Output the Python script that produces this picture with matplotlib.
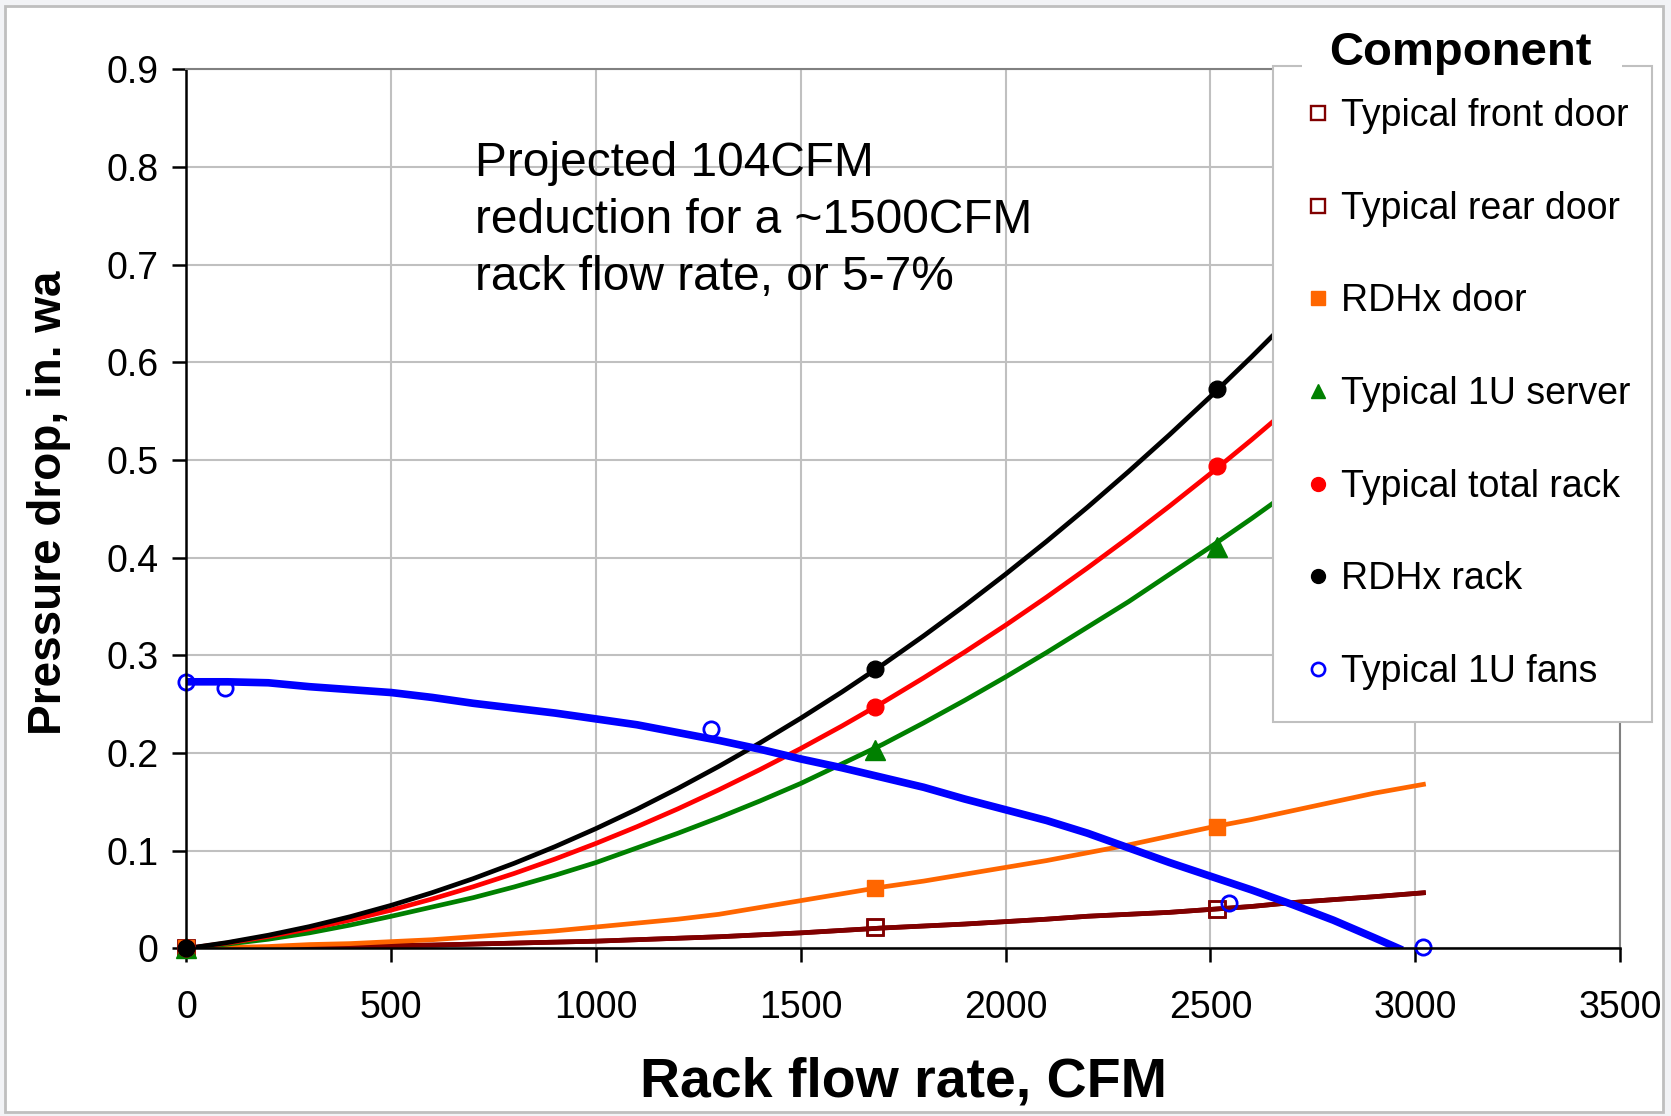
import matplotlib
matplotlib.use("Agg")
import matplotlib.pyplot as plt
from matplotlib.lines import Line2D
from matplotlib.patches import Rectangle

plt.rcParams['font.family'] = ['Liberation Sans', 'DejaVu Sans']

# curves, every 100 CFM
flow_cfm = [0, 100, 200, 300, 400, 500, 600, 700, 800, 900, 1000,
            1100, 1200, 1300, 1400, 1500, 1600, 1700, 1800, 1900, 2000,
            2100, 2200, 2300, 2400, 2500, 2600, 2700, 2800, 2900, 3020]
front_door = [0, 0, 0.0005, 0.0015, 0.0025, 0.003, 0.0035, 0.0045, 0.0055, 0.0065, 0.0075,
              0.009, 0.0105, 0.012, 0.014, 0.016, 0.0185, 0.021, 0.023, 0.025, 0.0275,
              0.030, 0.033, 0.035, 0.037, 0.040, 0.043, 0.047, 0.050, 0.053, 0.057]
rear_door = [0, 0, 0.0005, 0.0015, 0.0025, 0.003, 0.0035, 0.0045, 0.0055, 0.0065, 0.0075,
             0.009, 0.0105, 0.012, 0.014, 0.016, 0.0185, 0.021, 0.023, 0.025, 0.0275,
             0.030, 0.033, 0.035, 0.037, 0.040, 0.043, 0.047, 0.050, 0.053, 0.057]
rdhx_door = [0, 0.001, 0.002, 0.004, 0.005, 0.007, 0.009, 0.012, 0.015, 0.018, 0.022,
             0.026, 0.030, 0.035, 0.042, 0.049, 0.056, 0.063, 0.069, 0.076, 0.083,
             0.090, 0.098, 0.106, 0.115, 0.124, 0.132, 0.141, 0.150, 0.159, 0.168]
server_1u = [0, 0.0045, 0.0095, 0.016, 0.024, 0.033, 0.0425, 0.052, 0.063, 0.075, 0.088,
             0.103, 0.118, 0.134, 0.151, 0.169, 0.189, 0.209, 0.231, 0.254, 0.278,
             0.303, 0.329, 0.355, 0.383, 0.411, 0.440, 0.470, 0.502, 0.534, 0.575]
total_rack = [0, 0.0056, 0.0123, 0.0201, 0.0291, 0.0393, 0.0507, 0.0632, 0.0768, 0.0916, 0.1076,
              0.1247, 0.143, 0.1625, 0.1831, 0.2048, 0.2277, 0.2518, 0.2771, 0.3035, 0.331,
              0.3597, 0.3896, 0.4206, 0.4528, 0.4861, 0.5206, 0.5563, 0.5931, 0.6311, 0.679]
rdhx_rack = [0, 0.0061, 0.0136, 0.0224, 0.0326, 0.0442, 0.0572, 0.0715, 0.0872, 0.1043, 0.1228,
             0.1426, 0.1639, 0.1865, 0.2104, 0.2358, 0.2625, 0.2906, 0.3201, 0.351, 0.3832,
             0.4168, 0.4518, 0.4882, 0.5259, 0.565, 0.6055, 0.6474, 0.6906, 0.7352, 0.79]

fans_cfm = [0, 100, 200, 300, 400, 500, 600, 700, 800, 900, 1000,
            1100, 1200, 1300, 1400, 1500, 1600, 1700, 1800, 1900, 2000,
            2100, 2200, 2300, 2400, 2500, 2600, 2700, 2800, 2900, 2960]
fans_1u = [0.273, 0.273, 0.272, 0.268, 0.265, 0.262, 0.257, 0.251, 0.246, 0.241, 0.235,
           0.229, 0.221, 0.213, 0.204, 0.194, 0.185, 0.175, 0.165, 0.153, 0.142,
           0.131, 0.118, 0.103, 0.088, 0.074, 0.060, 0.045, 0.029, 0.011, 0.0]

# marker points
mark_cfm = [0, 1680, 2515]
front_door_pts = [0, 0.022, 0.040]
rear_door_pts = [0, 0.022, 0.040]
rdhx_door_pts = [0, 0.062, 0.124]
server_pts = [0, 0.203, 0.411]
total_rack_pts = [0, 0.247, 0.494]
rdhx_rack_pts = [0, 0.286, 0.573]
fans_mark_cfm = [0, 95, 1280, 2545, 3020]
fans_pts = [0.273, 0.267, 0.225, 0.047, 0.002]

labels = ['Typical front door', 'Typical rear door', 'RDHx door', 'Typical 1U server',
          'Typical total rack', 'RDHx rack', 'Typical 1U fans']

fig = plt.figure(figsize=(16.71, 11.16), dpi=100, facecolor='#f2f3f6')
fig.patches.append(Rectangle((0.003, 0.004), 0.992, 0.991, transform=fig.transFigure,
                             facecolor='white', edgecolor='#bfbfbf', lw=2, zorder=-1))
ax = fig.add_axes([0.1116, 0.1501, 0.8579, 0.7878])

dred = '#800000'
orange = '#ff6600'
green = '#008000'
red = '#ff0000'
blue = '#0000ff'

ax.plot(flow_cfm, front_door, color=dred, lw=3.4)
ax.plot(flow_cfm, rear_door, color=dred, lw=3.4)
ax.plot(flow_cfm, rdhx_door, color=orange, lw=3.4)
ax.plot(flow_cfm, server_1u, color=green, lw=3.4)
ax.plot(flow_cfm, total_rack, color=red, lw=3.4)
ax.plot(flow_cfm, rdhx_rack, color='black', lw=3.4)
ax.plot(fans_cfm, fans_1u, color=blue, lw=5.5)

ax.plot(mark_cfm, front_door_pts, 's', ms=11, mfc='none', mec=dred, mew=1.8, clip_on=False)
ax.plot(mark_cfm, rear_door_pts, 's', ms=11, mfc='none', mec=dred, mew=1.8, clip_on=False)
ax.plot(mark_cfm, rdhx_door_pts, 's', ms=11, color=orange, clip_on=False)
ax.plot(mark_cfm, server_pts, '^', ms=14, color=green, clip_on=False)
ax.plot(mark_cfm, total_rack_pts, 'o', ms=12, color=red, clip_on=False)
ax.plot(mark_cfm, rdhx_rack_pts, 'o', ms=12, color='black', clip_on=False)
ax.plot(fans_mark_cfm, fans_pts, 'o', ms=11, mfc='none', mec=blue, mew=2, clip_on=False)

ax.set_xlim(0, 3500)
ax.set_ylim(0, 0.9)
ax.set_xticks(range(0, 3501, 500))
ax.set_yticks([i / 10 for i in range(10)])
ax.set_yticklabels(['0'] + ['0.%d' % i for i in range(1, 10)])
ax.grid(True, color='#c0c0c0', lw=1.5)
ax.set_axisbelow(True)
for s in ['left', 'bottom']:
    ax.spines[s].set_color('black')
    ax.spines[s].set_linewidth(1.8)
for s in ['top', 'right']:
    ax.spines[s].set_color('#808080')
    ax.spines[s].set_linewidth(1.5)
ax.tick_params(direction='out', length=10, width=1.8, labelsize=27)
ax.tick_params(axis='y', pad=10)
ax.tick_params(axis='x', pad=20)

ax.set_xlabel('Rack flow rate, CFM', fontsize=40, fontweight='bold')
ax.xaxis.set_label_coords(0.5, -0.123)
ax.set_ylabel('Pressure drop, in. wa', fontsize=33, fontweight='bold')
ax.yaxis.set_label_coords(-0.0806, 0.507)

ax.text(704, 0.827, 'Projected 104CFM\nreduction for a ~1500CFM\nrack flow rate, or 5-7%',
        fontsize=34.5, va='top', ha='left', linespacing=1.345)

handles = [
    Line2D([], [], ls='none', marker='s', ms=9.5, mfc='none', mec=dred, mew=1.7),
    Line2D([], [], ls='none', marker='s', ms=9.5, mfc='none', mec=dred, mew=1.7),
    Line2D([], [], ls='none', marker='s', ms=9.5, color=orange),
    Line2D([], [], ls='none', marker='^', ms=10.5, color=green),
    Line2D([], [], ls='none', marker='o', ms=10, color=red),
    Line2D([], [], ls='none', marker='o', ms=10, color='black'),
    Line2D([], [], ls='none', marker='o', ms=9.5, mfc='none', mec=blue, mew=1.9),
]
leg = ax.legend(handles, labels, loc='upper left',
                bbox_to_anchor=(0.7618, 0.3575, 0.2268, 0.5834), bbox_transform=fig.transFigure,
                mode='expand', borderaxespad=0, fontsize=27, labelspacing=1.51,
                borderpad=0.86, handlelength=0.68, handletextpad=0.27, numpoints=1,
                fancybox=False, framealpha=1, edgecolor='#c0c0c0')
leg.get_frame().set_linewidth(1.5)

# legend title sits in a gap of the legend border
fig.patches.append(Rectangle((1302 / 1671, 1 - 75 / 1116), 320 / 1671, 16 / 1116,
                             transform=fig.transFigure, facecolor='white', edgecolor='none', zorder=10))
fig.text(1460 / 1671, 1 - 53 / 1116, 'Component', fontsize=34, fontweight='bold',
         ha='center', va='center', zorder=11)

fig.savefig('out.png', dpi=100, facecolor=fig.get_facecolor())
